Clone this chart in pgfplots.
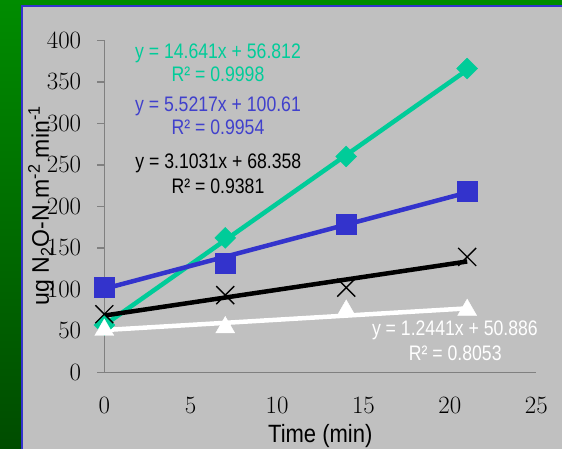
\documentclass[border=0pt]{standalone}
\usepackage{pgfplots}
\pgfplotsset{compat=1.18}
\usepackage{fontspec}
\setmainfont{Liberation Serif}
\newfontfamily\labelfont[FakeStretch=0.88]{Liberation Sans}
\newfontfamily\ylabelfont[FakeStretch=0.96]{Liberation Sans}
\newfontfamily\eqfont[FakeStretch=0.84]{Liberation Sans}

\definecolor{bgtop}{RGB}{0,140,0}
\definecolor{bgbottom}{RGB}{0,76,0}
\definecolor{panelgray}{RGB}{192,192,192}
\definecolor{frameblue}{RGB}{51,51,204}
\definecolor{axisgray}{RGB}{128,128,128}
\definecolor{seriesA}{RGB}{0,204,153}
\definecolor{seriesB}{RGB}{51,51,204}
\definecolor{seriesBtext}{RGB}{64,64,204}

\begin{document}
\begin{tikzpicture}[x=1pt,y=1pt]
% slide background and chart panel
\shade[top color=bgtop, bottom color=bgbottom] (0,0) rectangle (562,449);
\fill[panelgray] (22,0) rectangle (562,443);
\draw[frameblue, line width=2pt] (22,0) -- (22,443) -- (562,443);

\begin{axis}[
  at={(104.3pt,76.7pt)}, anchor=south west,
  width=432pt, height=332pt, scale only axis,
  xmin=0, xmax=25, ymin=0, ymax=400,
  axis x line*=bottom, axis y line*=left,
  axis line style={axisgray, line width=1.5pt},
  xtick={0,5,...,25}, ytick={0,50,...,400},
  tick align=outside, major tick length=7pt,
  ytick style={axisgray, line width=1.5pt},
  xtick style={draw=none},
  tick label style={font=\fontsize{25}{25}\selectfont, inner sep=0pt},
  yticklabel style={xshift=-16pt},
  xticklabel style={yshift=-18pt},
  clip=false,
  xlabel={Time (min)},
  xlabel style={at={(axis description cs:0.5,0)}, anchor=base, yshift=-70.7pt,
    font=\labelfont\fontsize{25}{25}\selectfont, inner sep=0pt},
  ylabel={ug N\textsubscript{2}O-N m\textsuperscript{-2} min\textsuperscript{-1}},
  ylabel style={at={(axis description cs:0,0.502)}, anchor=center, yshift=63.3pt,
    font=\ylabelfont\fontsize{24}{24}\selectfont, inner sep=0pt},
]

% measured points
\addplot[only marks, mark=square*, mark size=7.4pt,
  mark options={rotate=45, fill=seriesA, draw=seriesA}]
  coordinates {(0,57) (7,162) (14,260) (21,366)};
\addplot[only marks, mark=square*, mark size=10pt,
  mark options={fill=seriesB, draw=seriesB}]
  coordinates {(0,103) (7,132) (14,179) (21,218)};
\addplot[only marks, mark=x, mark size=12.7pt,
  mark options={draw=black, line width=1.3pt}]
  coordinates {(0,70) (7,93) (14,102) (21,139)};
\addplot[only marks, mark=triangle*, mark size=11pt,
  mark options={fill=white, draw=white}]
  coordinates {(0,51) (7,54) (14,74) (21,75)};

% linear trend lines
\addplot[seriesA, line width=4.5pt] coordinates {(0,56.812) (21,364.273)};
\addplot[seriesB, line width=4.5pt] coordinates {(0,100.61) (21,216.566)};
\addplot[black, line width=4.5pt] coordinates {(0,68.358) (21,133.523)};
\addplot[white, line width=4.5pt] coordinates {(0,50.886) (21,77.012)};

% trend line equations
\begin{scope}[every node/.style={anchor=base, inner sep=0pt,
    font=\eqfont\fontsize{21}{21}\selectfont}]
\node[text=seriesA] at (axis cs:6.58,378.3) {y = 14.641x + 56.812};
\node[text=seriesA] at (axis cs:6.58,350.1) {R² = 0.9998};
\node[text=seriesBtext] at (axis cs:6.58,314.8) {y = 5.5217x + 100.61};
\node[text=seriesBtext] at (axis cs:6.58,286.7) {R² = 0.9954};
\node[text=black] at (axis cs:6.6,245.8) {y = 3.1031x + 68.358};
\node[text=black] at (axis cs:6.58,215.7) {R² = 0.9381};
\node[text=white] at (axis cs:20.29,44.9) {y = 1.2441x + 50.886};
\node[text=white] at (axis cs:20.31,14.8) {R² = 0.8053};
\end{scope}
\end{axis}

\pgfresetboundingbox
\path (0,0) rectangle (562,449);
\end{tikzpicture}
\end{document}
